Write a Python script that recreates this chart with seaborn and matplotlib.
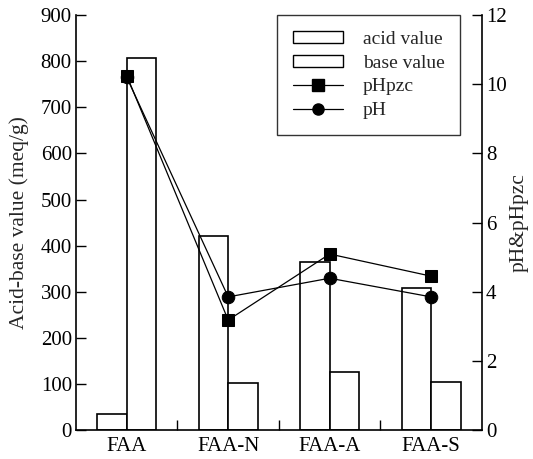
import pandas as pd
import numpy as np
import matplotlib
matplotlib.use("Agg")
import matplotlib.pyplot as plt
import seaborn as sns
from matplotlib.patches import Patch
from matplotlib.lines import Line2D

SAMPLES = ["FAA", "FAA-N", "FAA-A", "FAA-S"]
ACID_VALUE = [35, 421, 364, 308]
BASE_VALUE = [807, 102, 126, 104]
PH_PZC = [10.25, 3.18, 5.09, 4.45]
PH = [10.2, 3.85, 4.39, 3.85]

sns.set_theme(style="white")
plt.rcParams["font.family"] = ["Liberation Serif", "DejaVu Serif"]

df = pd.DataFrame({
    "Sample": SAMPLES * 2,
    "Value": ACID_VALUE + BASE_VALUE,
    "Kind": ["acid value"] * 4 + ["base value"] * 4,
})

fig = plt.figure(figsize=(5.33, 4.59), dpi=100)
ax = fig.add_axes([0.1426, 0.0632, 0.7614, 0.9038])

sns.barplot(
    data=df, x="Sample", y="Value", hue="Kind", order=SAMPLES,
    hue_order=["acid value", "base value"],
    palette=["white", "white"], width=0.58, gap=0,
    edgecolor="black", linewidth=1.2, legend=False, ax=ax,
)
ax.set_ylim(0, 900)
ax.set_xlim(-0.5, 3.5)
ax.set_yticks(range(0, 901, 100))
ax.set_xlabel("")
ax.set_ylabel("Acid-base value (meq/g)", fontsize=15.5, labelpad=8)

# pH curves on the right axis
ax2 = ax.twinx()
sns.lineplot(x=np.arange(4), y=PH_PZC, marker="s", markersize=9, color="black",
             linewidth=0.9, markeredgecolor="black", sort=False, ax=ax2)
sns.lineplot(x=np.arange(4), y=PH, marker="o", markersize=9, color="black",
             linewidth=0.9, markeredgecolor="black", sort=False, ax=ax2)
ax2.set_ylim(0, 12)
ax2.set_yticks(range(0, 13, 2))
ax2.set_ylabel("pH&pHpzc", fontsize=15.5, labelpad=2)
ax2.set_xlim(-0.5, 3.5)

for a in (ax, ax2):
    a.spines["top"].set_visible(False)
    for s in ("left", "right", "bottom"):
        a.spines[s].set_color("black")
        a.spines[s].set_linewidth(1.2)
    a.tick_params(axis="y", direction="in", length=7, width=1.0,
                  labelsize=15, colors="black", pad=3)
ax.spines["right"].set_visible(False)
ax2.spines["left"].set_visible(False)
ax2.spines["bottom"].set_visible(False)
ax.tick_params(axis="y", left=True, right=False)
ax2.tick_params(axis="y", right=True, left=False)

ax.set_xticks([0, 1, 2, 3])
ax.set_xticklabels(SAMPLES, fontsize=15)
ax.tick_params(axis="x", length=0, pad=5, colors="black")
ax.set_xticks([0.5, 1.5, 2.5], minor=True)
ax.tick_params(axis="x", which="minor", direction="in", length=7, width=1.0,
               bottom=True, color="black")

handles = [
    Patch(facecolor="white", edgecolor="black", linewidth=1.0, label="acid value"),
    Patch(facecolor="white", edgecolor="black", linewidth=1.0, label="base value"),
    Line2D([], [], color="black", marker="s", markersize=8, linewidth=0.9, label="pHpzc"),
    Line2D([], [], color="black", marker="o", markersize=8, linewidth=0.9, label="pH"),
]
leg = ax2.legend(handles=handles, loc="upper right", bbox_to_anchor=(0.946, 1.0),
                 borderaxespad=0, fontsize=14, frameon=True, fancybox=False,
                 handlelength=2.6, handleheight=0.6, borderpad=0.8,
                 labelspacing=0.35, handletextpad=1.0)
leg.get_frame().set_edgecolor("black")
leg.get_frame().set_linewidth(1.0)

fig.savefig("out.png", dpi=100)
